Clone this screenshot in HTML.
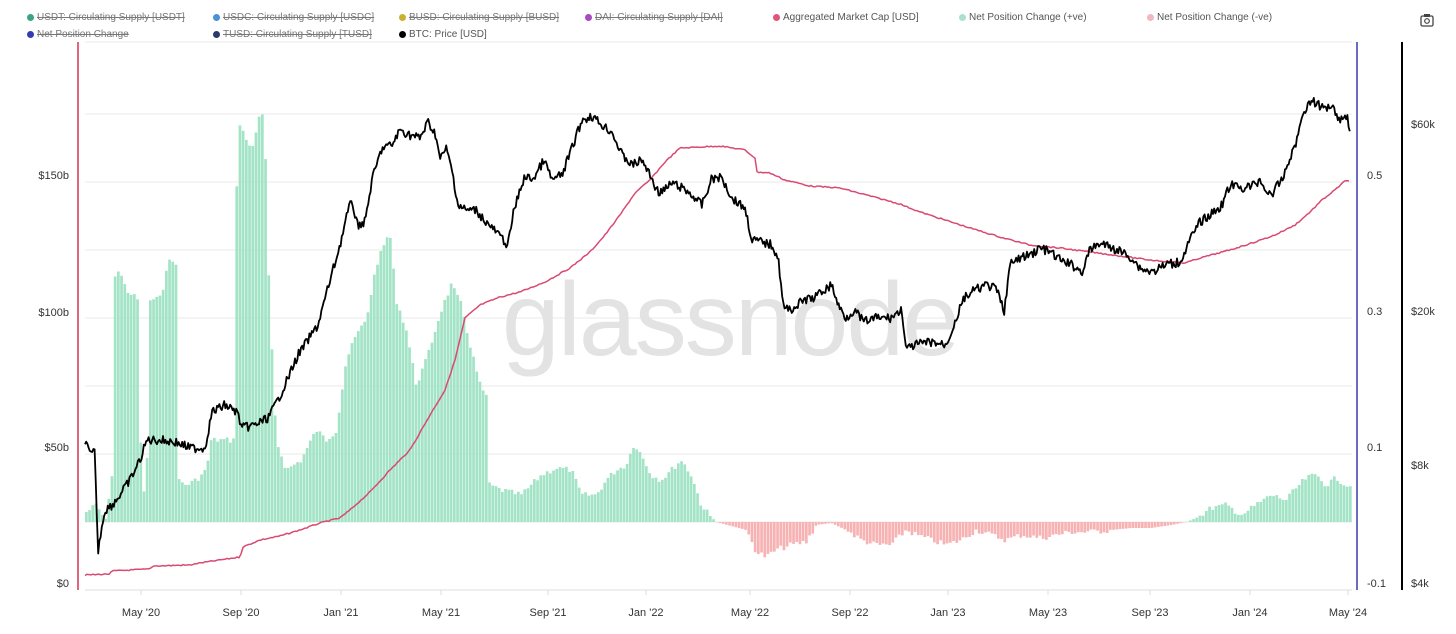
<!DOCTYPE html>
<html><head><meta charset="utf-8"><style>
body{margin:0;background:#fff;font-family:"Liberation Sans",sans-serif;}
.lg{position:absolute;font-size:10px;color:#555;white-space:nowrap;}
.lg i{display:inline-block;width:7px;height:7px;border-radius:50%;margin-right:3px;vertical-align:-0.5px}
.s{text-decoration:line-through;color:#777}
</style></head><body>
<div style="position:relative;width:1456px;height:634px;overflow:hidden">
<div class="lg s" style="left:27px;top:12px"><i style="background:#3aa67f"></i>USDT: Circulating Supply [USDT]</div>
<div class="lg s" style="left:213px;top:12px"><i style="background:#4a8fd8"></i>USDC: Circulating Supply [USDC]</div>
<div class="lg s" style="left:399px;top:12px"><i style="background:#c9b02e"></i>BUSD: Circulating Supply [BUSD]</div>
<div class="lg s" style="left:585px;top:12px"><i style="background:#a94ac0"></i>DAI: Circulating Supply [DAI]</div>
<div class="lg" style="left:773px;top:12px"><i style="background:#e0557a"></i>Aggregated Market Cap [USD]</div>
<div class="lg" style="left:959px;top:12px"><i style="background:#a8e2c9"></i>Net Position Change (+ve)</div>
<div class="lg" style="left:1147px;top:12px"><i style="background:#f2b8bf"></i>Net Position Change (-ve)</div>
<div class="lg s" style="left:27px;top:29px"><i style="background:#3a3ab0"></i>Net Position Change</div>
<div class="lg s" style="left:213px;top:29px"><i style="background:#2a3a6a"></i>TUSD: Circulating Supply [TUSD]</div>
<div class="lg" style="left:399px;top:29px"><i style="background:#000"></i>BTC: Price [USD]</div>
<svg id="c" width="1456" height="634" style="position:absolute;left:0;top:0"></svg>
</div>
<script>
const svg=document.getElementById('c');let h='';
[42,114,182,250,318,386,454,522].forEach(y=>h+=`<line x1="85" x2="1352" y1="${y}" y2="${y}" stroke="#e8e8e8"/>`);
h+=`<line x1="85" x2="1352" y1="590" y2="590" stroke="#ddd"/>`;
h+=`<text x="730" y="355" font-size="104" fill="#e3e3e3" text-anchor="middle" font-family="Liberation Sans" letter-spacing="-2">glassnode</text>`;
function interp(pts,x){for(let i=1;i<pts.length;i++){if(x<=pts[i][0]){const a=pts[i-1],b=pts[i];return a[1]+(b[1]-a[1])*(x-a[0])/(b[0]-a[0]);}}return pts[pts.length-1][1];}
const bp=[[85,512],[95,505],[104,520],[112,470],[113,275],[118,270],[125,290],[137,300],[140,480],[145,500],[149,300],[160,298],[166,262],[175,262],[176,480],[185,485],[195,480],[205,470],[210,440],[222,440],[233,440],[236,120],[250,150],[258,118],[263,115],[268,300],[275,440],[285,470],[300,460],[315,430],[325,440],[335,430],[345,360],[355,335],[365,320],[375,265],[385,240],[388,228],[395,300],[405,330],[415,385],[425,360],[440,310],[450,285],[460,305],[470,350],[480,390],[485,395],[488,485],[500,490],[520,495],[540,475],[555,468],[570,470],[580,495],[595,495],[605,480],[615,470],[625,465],[633,443],[640,455],[650,475],[660,480],[670,470],[680,460],[690,475],[700,505],[708,515],[715,522],[730,526],[745,530],[755,552],[765,557],[775,550],[790,545],[805,542],[815,525],[830,523],[845,530],[860,540],[875,545],[890,545],[905,530],[915,535],[930,540],[945,545],[960,540],[975,530],[990,535],[1005,540],[1020,535],[1040,538],[1055,535],[1070,532],[1090,532],[1110,530],[1130,528],[1150,528],[1170,525],[1185,522],[1195,518],[1210,508],[1225,505],[1240,515],[1255,505],[1270,495],[1285,500],[1295,488],[1305,478],[1315,475],[1325,485],[1335,478],[1345,485],[1350,486]];
let seed=7;const rnd=()=>{seed=(seed*9301+49297)%233280;return seed/233280;};
for(let x=85;x<1350;x+=3.2){let t=interp(bp,x);
 let noise=(Math.abs(t-522)>8)?(rnd()-0.5)*6:0;t+=noise;
 const base=522;
 if(t<base){h+=`<rect x="${x.toFixed(1)}" y="${t.toFixed(1)}" width="2.7" height="${(base-t).toFixed(1)}" fill="#a3e3c6"/>`;}
 else{h+=`<rect x="${x.toFixed(1)}" y="${base}" width="2.7" height="${(t-base).toFixed(1)}" fill="#f7b3b3"/>`;}}
const mc=[[85,575],[110,574],[112,571],[150,569],[153,566],[190,565],[200,563],[240,557],[243,547],[260,540],[280,536],[300,530],[320,523],[340,518],[350,510],[370,492],[390,470],[410,450],[430,415],[445,390],[455,360],[465,318],[480,305],[500,297],[520,292],[545,282],[570,268],[590,252],[605,235],[620,215],[635,193],[650,180],[665,162],[680,148],[700,147],[720,146],[745,150],[755,158],[757,172],[770,173],[785,180],[810,186],[840,188],[870,196],[900,204],[920,212],[945,220],[970,228],[1000,237],[1030,245],[1060,248],[1090,252],[1120,256],[1150,260],[1185,263],[1200,258],[1230,250],[1255,242],[1275,235],[1295,225],[1310,212],[1322,200],[1335,190],[1345,181],[1350,181]];
let p='';for(let x=85;x<=1350;x+=2){p+=`${x},${(interp(mc,x)+(rnd()-0.5)*1.2).toFixed(1)} `;}
h+=`<polyline points="${p}" fill="none" stroke="#d94a72" stroke-width="1.5"/>`;
const bt=[[85,440],[90,455],[95,452],[98,555],[101,530],[105,510],[112,505],[120,495],[130,480],[140,460],[147,440],[160,440],[175,442],[190,448],[205,448],[212,412],[225,405],[237,412],[242,428],[255,425],[268,418],[278,400],[288,378],[298,355],[308,340],[318,325],[326,295],[333,270],[340,245],[347,215],[352,200],[357,225],[365,222],[372,180],[382,148],[392,145],[400,130],[410,135],[420,138],[428,122],[436,135],[440,160],[446,148],[452,170],[458,205],[466,210],[476,210],[486,222],[496,232],[508,245],[514,210],[524,178],[534,178],[544,160],[552,180],[562,175],[572,148],[582,120],[592,116],[602,125],[612,132],[622,155],[632,165],[642,160],[650,175],[658,192],[665,190],[672,183],[682,188],[692,195],[702,205],[712,178],[722,178],[732,198],[745,208],[752,240],[762,242],[772,245],[778,257],[784,310],[794,308],[804,300],[814,298],[824,290],[832,285],[838,305],[846,318],[854,310],[864,322],[875,318],[890,318],[902,310],[906,350],[915,345],[930,342],[946,345],[955,322],[964,298],[975,290],[987,285],[997,290],[1004,312],[1010,265],[1020,258],[1030,255],[1040,248],[1050,252],[1060,260],[1072,265],[1082,272],[1090,250],[1100,243],[1112,248],[1122,252],[1132,258],[1140,268],[1152,272],[1165,265],[1180,262],[1190,240],[1200,222],[1210,215],[1222,205],[1230,185],[1242,188],[1252,186],[1260,180],[1270,196],[1282,180],[1290,158],[1297,140],[1303,112],[1312,100],[1322,108],[1332,105],[1340,120],[1347,115],[1351,135]];
p='';for(let x=85;x<=1351;x+=1.2){p+=`${x.toFixed(1)},${(interp(bt,x)+(rnd()-0.5)*9).toFixed(1)} `;}
h+=`<polyline points="${p}" fill="none" stroke="#000" stroke-width="1.8" stroke-linejoin="round"/>`;
h+=`<line x1="78" x2="78" y1="42" y2="590" stroke="#d63355" stroke-width="1.5"/>`;
h+=`<line x1="1357" x2="1357" y1="42" y2="590" stroke="#3b3ba8" stroke-width="1.5"/>`;
h+=`<line x1="1402" x2="1402" y1="42" y2="590" stroke="#000" stroke-width="2"/>`;
const tx=(x,y,s,a)=>h+=`<text x="${x}" y="${y}" font-size="11" fill="#333" text-anchor="${a||'start'}">${s}</text>`;
[["$150b",179],["$100b",316],["$50b",451],["$0",587]].forEach(d=>tx(69,d[1],d[0],'end'));
[["0.5",179],["0.3",315],["0.1",451],["-0.1",587]].forEach(d=>tx(1367,d[1],d[0]));
[["$60k",128],["$20k",315],["$8k",469],["$4k",587]].forEach(d=>tx(1411,d[1],d[0]));
[["May '20",141],["Sep '20",241],["Jan '21",341],["May '21",441],["Sep '21",548],["Jan '22",646],["May '22",750],["Sep '22",850],["Jan '23",948],["May '23",1048],["Sep '23",1150],["Jan '24",1250],["May '24",1348]].forEach(d=>{tx(d[1],616,d[0],'middle');h+=`<line x1="${d[1]}" x2="${d[1]}" y1="590" y2="595" stroke="#ddd"/>`;});
h+=`<rect x="1421" y="16" width="12" height="10" rx="1.5" fill="none" stroke="#444" stroke-width="1.3"/><rect x="1424" y="14" width="6" height="3" fill="#444"/><circle cx="1427" cy="21" r="2.3" fill="none" stroke="#444" stroke-width="1.2"/>`;
svg.innerHTML=h;
</script>
</body></html>
